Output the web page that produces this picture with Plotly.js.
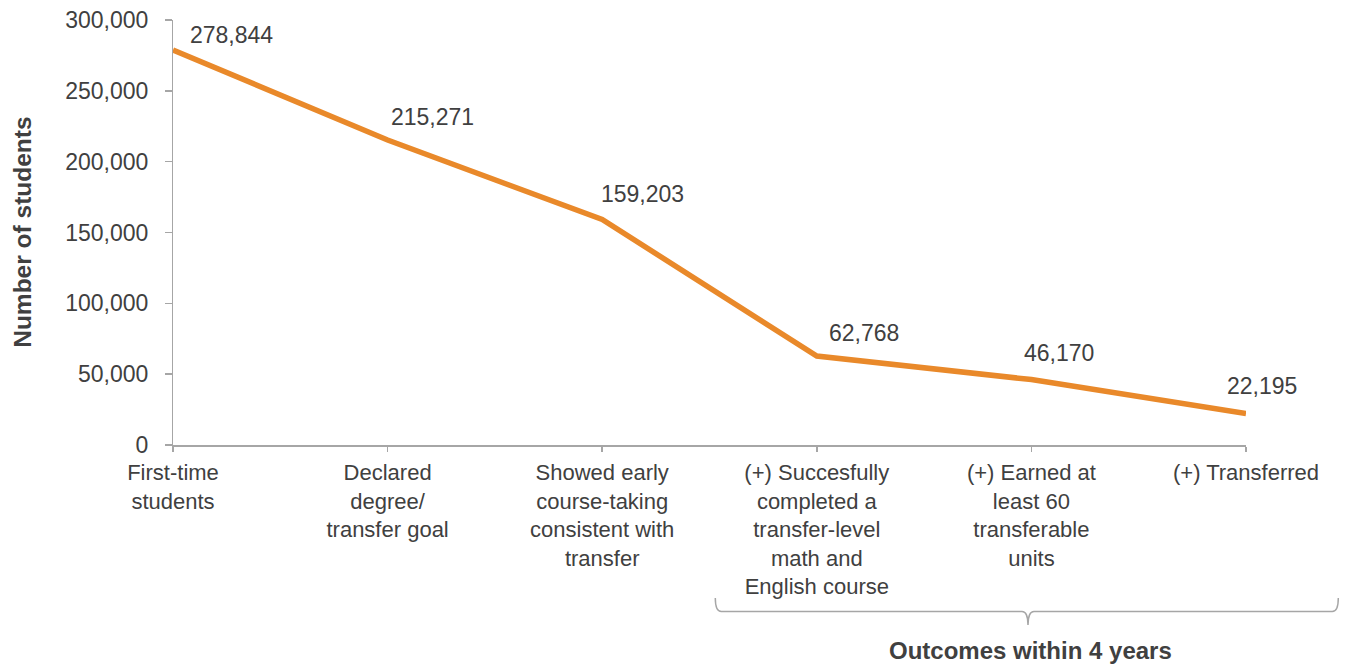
<!DOCTYPE html>
<html>
<head>
<meta charset="utf-8">
<script src="https://cdn.plot.ly/plotly-3.0.1.min.js"></script>
<style>
  html, body { margin: 0; padding: 0; background: #ffffff; }
  #chart { width: 1345px; height: 666px; }
</style>
</head>
<body>
<div id="chart"></div>
<script>
// ---- Data ----
const categories = [
  "First-time<br>students",
  "Declared<br>degree/<br>transfer goal",
  "Showed early<br>course-taking<br>consistent with<br>transfer",
  "(+) Succesfully<br>completed a<br>transfer-level<br>math and<br>English course",
  "(+) Earned at<br>least 60<br>transferable<br>units",
  "(+) Transferred"
];
const students = [278844, 215271, 159203, 62768, 46170, 22195];
const yTickValues = [0, 50000, 100000, 150000, 200000, 250000, 300000];
const yTickLabels = ["0", "50,000", "100,000", "150,000", "200,000", "250,000", "300,000"];
const yAxisTitle = "Number of students";
const bracketLabel = "Outcomes within 4 years";

// ---- Style / layout ----
const W = 1345, H = 666;
const M = { l: 172.7, r: 99.3, t: 20, b: 221 };
const plotW = W - M.l - M.r, plotH = H - M.t - M.b;
const px2x = p => (p - M.l) / plotW;
const px2y = p => (H - M.b - p) / plotH;

const textColor = "#404040";
const axisColor = "#A6A6A6";
const lineColor = "#E9892A";
const font = "Liberation Sans, Arial, sans-serif";

// label offsets in pixels (relative to each point)
const labelDX = [58.6, 44.4, 40.4, 46.8, 28, 16.3];
const labelDY = [15, 23.4, 25.8, 22.8, 26.8, 27.9];

const xIdx = categories.map((_, i) => i);

const trace = {
  type: "scatter",
  mode: "lines",
  x: xIdx,
  y: students,
  line: { color: lineColor, width: 5.5 },
  hoverinfo: "skip",
  cliponaxis: false
};

const annotations = students.map((v, i) => ({
  x: i, y: v, xref: "x", yref: "y",
  text: v.toLocaleString("en-US"),
  showarrow: false,
  xanchor: "center", yanchor: "middle",
  xshift: labelDX[i], yshift: labelDY[i],
  font: { family: font, size: 23, color: textColor }
}));

annotations.push({
  xref: "paper", yref: "paper",
  x: 0, y: 0.5, xshift: -150.7,
  text: "<b>" + yAxisTitle + "</b>",
  textangle: -90, showarrow: false,
  xanchor: "center", yanchor: "middle",
  font: { family: font, size: 24.5, color: textColor }
});

annotations.push({
  xref: "paper", yref: "paper",
  x: px2x(1030), y: px2y(650),
  text: "<b>" + bracketLabel + "</b>",
  showarrow: false, xanchor: "center", yanchor: "middle",
  font: { family: font, size: 24, color: textColor }
});

// bracket (pixel -> paper)
const bL = 715, bR = 1338, bC = 1027.7, bTop = 598, bMid = 611.5, bBot = 625, r = 6;
const P = (x, y) => px2x(x).toFixed(5) + "," + px2y(y).toFixed(5);
const bracketPath =
  "M " + P(bL, bTop) +
  " Q " + P(bL, bMid) + " " + P(bL + r, bMid) +
  " L " + P(bC - r, bMid) +
  " Q " + P(bC, bMid) + " " + P(bC, bBot) +
  " Q " + P(bC, bMid) + " " + P(bC + r, bMid) +
  " L " + P(bR - r, bMid) +
  " Q " + P(bR, bMid) + " " + P(bR, bTop);

const layout = {
  width: W, height: H,
  margin: M,
  paper_bgcolor: "#ffffff",
  plot_bgcolor: "#ffffff",
  showlegend: false,
  font: { family: font, size: 22, color: textColor },
  xaxis: {
    range: [0, categories.length - 1],
    tickmode: "array",
    tickvals: xIdx,
    ticktext: categories,
    showgrid: false, zeroline: false,
    showline: true, linecolor: axisColor, linewidth: 1.5,
    ticks: "outside", ticklen: 5, tickwidth: 1.5, tickcolor: axisColor,
    tickfont: { family: font, size: 22, color: textColor },
    ticklabelstandoff: 2,
    fixedrange: true
  },
  yaxis: {
    range: [0, 300000],
    tickmode: "array",
    tickvals: yTickValues,
    ticktext: yTickLabels,
    showgrid: false, zeroline: false,
    showline: true, linecolor: axisColor, linewidth: 1.5,
    ticks: "outside", ticklen: 6.5, tickwidth: 1.5, tickcolor: axisColor,
    tickfont: { family: font, size: 23, color: textColor },
    ticklabelstandoff: 12,
    fixedrange: true
  },
  annotations: annotations,
  shapes: [{
    type: "path", xref: "paper", yref: "paper",
    path: bracketPath,
    line: { color: axisColor, width: 1.5 }
  }]
};

Plotly.newPlot("chart", [trace], layout, { staticPlot: true, displayModeBar: false });
</script>
</body>
</html>
